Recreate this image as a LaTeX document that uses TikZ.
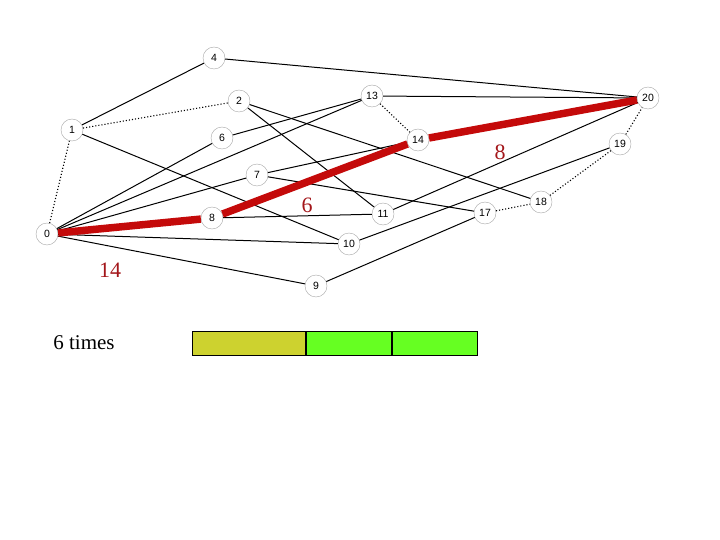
\documentclass[tikz,border=0pt]{standalone}
\usepackage{fontspec}
\setmainfont{Liberation Serif}
\newfontfamily\labelfont{Liberation Sans}
\usetikzlibrary{arrows, arrows.meta}
\usetikzlibrary{calc}

\definecolor{pathred}{HTML}{C40A0A}
\definecolor{numred}{HTML}{A3161A}
\definecolor{barolive}{HTML}{CDD22F}
\definecolor{bargreen}{HTML}{66FF22}

\tikzset{
  vert/.style={circle, draw=gray!70, thin, inner sep=0pt, minimum size=22pt, font=\labelfont\fontsize{10.5}{10.5}\selectfont},
  edge/.style={black, line width=1pt},
  dotedge/.style={black, line width=1.1pt, dotted},
  redpath/.style={pathred, line width=7.5pt},
  weight/.style={numred, font=\fontsize{22}{22}\selectfont},
  barcell/.style={draw=black, line width=0.8pt, minimum height=24pt, inner sep=0pt, anchor=north west}
}

\begin{document}
\begin{tikzpicture}[x=1pt, y=-1pt]
    \useasboundingbox (0,0) rectangle (720,540);

    \node[vert] (0) at (47,234) {0};
    \node[vert] (1) at (72,130) {1};
    \node[vert] (2) at (239,101) {2};
    \node[vert] (4) at (214,58) {4};
    \node[vert] (6) at (222,138) {6};
    \node[vert] (7) at (257,175) {7};
    \node[vert] (8) at (212,218) {8};
    \node[vert] (9) at (316,286) {9};
    \node[vert] (10) at (349,244) {10};
    \node[vert] (11) at (383,214) {11};
    \node[vert] (13) at (372,96) {13};
    \node[vert] (14) at (418,140) {14};
    \node[vert] (17) at (485,213) {17};
    \node[vert] (18) at (541,202) {18};
    \node[vert] (19) at (620,144) {19};
    \node[vert] (20) at (648,98) {20};

    \draw[edge] (1) -- (4) -- (20);
    \draw[edge] (1) -- (10);
    \draw[edge] (2) -- (11);
    \draw[edge] (2) -- (18);
    \draw[edge] (0) -- (6) -- (13) -- (20);
    \draw[edge] (0) -- (13);
    \draw[edge] (0) -- (7) -- (14);
    \draw[edge] (7) -- (17);
    \draw[edge] (0) -- (10) -- (19);
    \draw[edge] (0) -- (9) -- (17);
    \draw[edge] (8) -- (11) -- (20);
    \draw[dotedge] (0) -- (1) -- (2);
    \draw[dotedge] (13) -- (14);
    \draw[dotedge] (17) -- (18) -- (19) -- (20);

    \draw[redpath] (0) -- (8) -- (14) -- (20);

    \node[weight] (w8) at (500,152) {8};
    \node[weight] (w6) at (307,205) {6};
    \node[weight] (w14) at (110,270) {14};

    \node[font=\fontsize{21}{21}\selectfont] (times) at (84,343) {6 times};
    \node[barcell, fill=barolive, minimum width=113pt] (c1) at (192,331) {};
    \node[barcell, fill=bargreen, minimum width=85pt] (c2) at (c1.north east) {};
    \node[barcell, fill=bargreen, minimum width=85pt] (c3) at (c2.north east) {};
  \end{tikzpicture}
\end{document}
